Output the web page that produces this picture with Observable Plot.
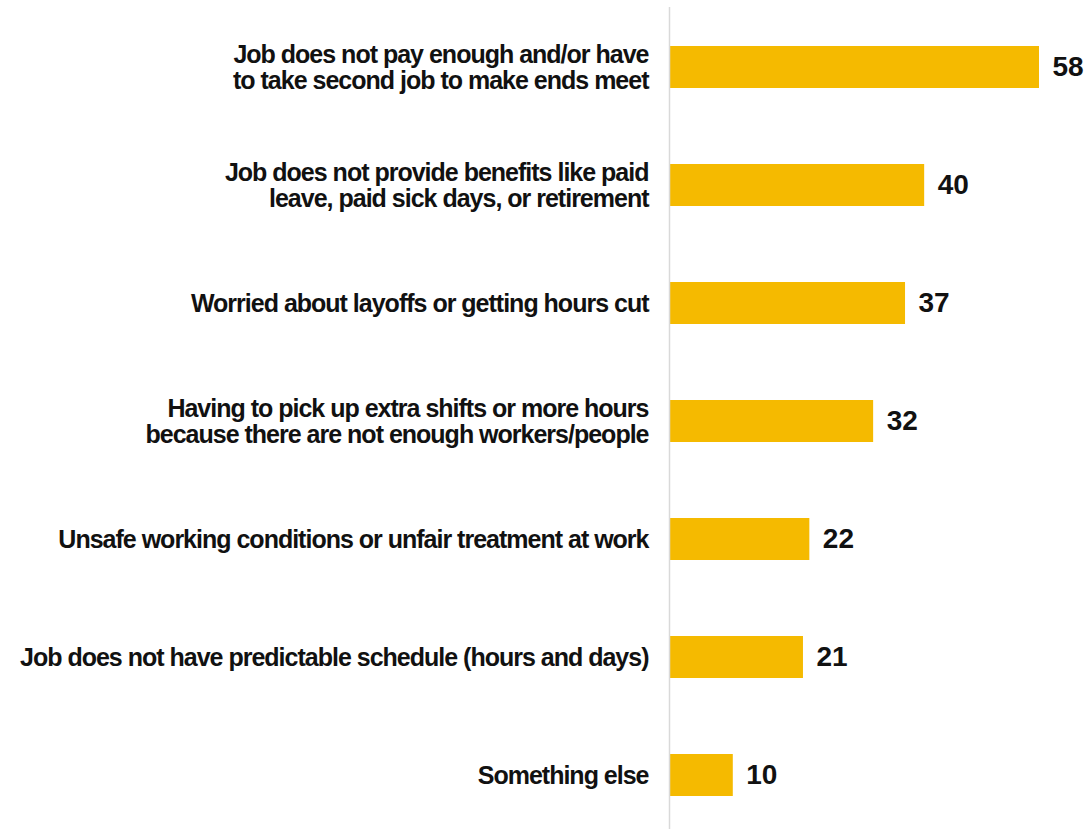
<!DOCTYPE html>
<html><head><meta charset="utf-8">
<script src="https://cdn.jsdelivr.net/npm/d3@7"></script>
<script src="https://cdn.jsdelivr.net/npm/@observablehq/plot@0.6"></script>
<style>
body{margin:0;background:#fff;}
svg{display:block;}
</style>
</head><body>
<div id="chart"></div>
<script>
const categories = [
  "Job does not pay enough and/or have\nto take second job to make ends meet",
  "Job does not provide benefits like paid\nleave, paid sick days, or retirement",
  "Worried about layoffs or getting hours cut",
  "Having to pick up extra shifts or more hours\nbecause there are not enough workers/people",
  "Unsafe working conditions or unfair treatment at work",
  "Job does not have predictable schedule (hours and days)",
  "Something else"
];
const values = [58, 40, 37, 32, 22, 21, 10];
const data = categories.map((c, i) => ({cat: c, value: values[i]}));

const chart = Plot.plot({
  width: 1090,
  height: 829,
  marginLeft: 668,
  marginRight: 32,
  marginTop: 7,
  marginBottom: 0,
  style: {fontFamily: "Liberation Sans, Arial, sans-serif", background: "#fff"},
  x: {domain: [0, 58], range: [669, 1039], axis: null},
  y: {domain: categories, range: [7, 835], paddingInner: 0.645, paddingOuter: 0.3225, axis: null},
  marks: [
    Plot.barX(data, {y: "cat", x: "value", fill: "#F5BA00"}),
    Plot.ruleX([0], {stroke: "#d9d9d9", strokeWidth: 1.5}),
    Plot.text(data, {y: "cat", x: 0, text: "cat", dx: -21, textAnchor: "end",
      fontSize: 25, fontWeight: "bold", fill: "#111", lineHeight: 1.04}),
    Plot.text(data, {y: "cat", x: "value", text: d => String(d.value), dx: 13,
      textAnchor: "start", fontSize: 28, fontWeight: "bold", fill: "#111"})
  ]
});
const textGroups = chart.querySelectorAll('g[aria-label="text"]');
if (textGroups.length) textGroups[0].setAttribute("letter-spacing", "-1px");
document.getElementById("chart").appendChild(chart);
</script>
</body></html>
